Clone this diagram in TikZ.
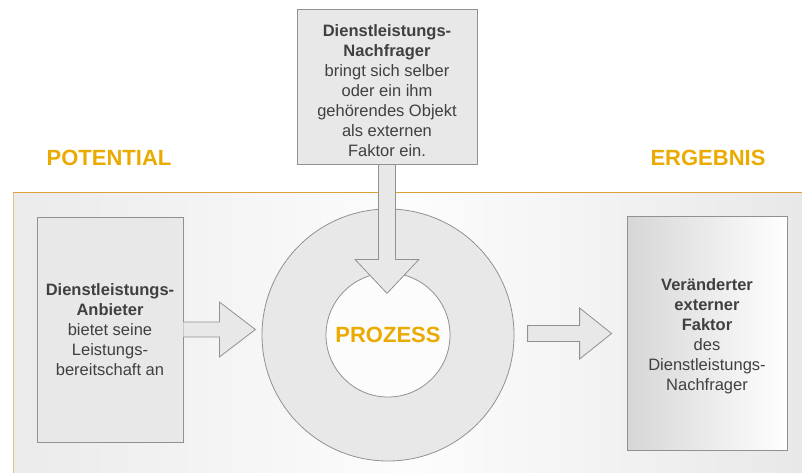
\documentclass[tikz,border=0pt]{standalone}
\usepackage{fontspec}
\setmainfont{Liberation Sans}
\usetikzlibrary{calc}

\definecolor{accent}{RGB}{234,170,0}
\definecolor{panelline}{RGB}{218,162,58}
\definecolor{panelside}{RGB}{228,196,140}
\definecolor{boxfill}{RGB}{232,232,232}
\definecolor{boxline}{RGB}{145,145,145}
\definecolor{txt}{RGB}{64,64,64}

\tikzset{
  bodytext/.style={text=txt, align=center, inner sep=0pt,
    font=\fontsize{16.5}{20}\selectfont},
  heading/.style={text=accent, inner sep=0pt,
    font=\fontsize{22}{26}\selectfont\bfseries},
  greybox/.style={draw=boxline, fill=boxfill, line width=0.8pt,
    rectangle, inner sep=0pt},
  blockarrow/.style={draw=boxline, fill=boxfill, line width=0.8pt,
    line join=miter},
}

\begin{document}
\begin{tikzpicture}[x=1pt, y=-1pt]
\useasboundingbox (0,0) rectangle (802,473);

% background panel with its orange edges
\shade[left color=black!8, right color=black!9, middle color=black!1]
  (13,192) rectangle (802,473);
\draw[panelside, line width=1pt] (13,192) -- (13,473);
\draw[panelline, line width=1pt] (13,192) -- (802,192);

% headings
\node[heading] (potential) at (109,158) {POTENTIAL};
\node[heading] (ergebnis) at (708,158) {ERGEBNIS};

% process ring
\node[circle, draw=boxline, fill=boxfill, line width=0.8pt,
  minimum size=252pt, inner sep=0pt] (ring) at (388,335) {};
\node[circle, draw=boxline, fill=black!1, line width=0.8pt,
  minimum size=124pt, inner sep=0pt] (core) at (ring.center) {};
\node[heading] (prozess) at (core.center) {PROZESS};

% customer box at the top
\node[greybox, minimum width=180pt, minimum height=155pt] (tbox) at (387,86.5) {};

% arrow from the customer into the process
\begin{scope}[shift={(tbox.south)}]
  \filldraw[blockarrow] (-8.5,0) -- (-8.5,95) -- (-32,95) -- (0,129)
    -- (32,95) -- (8.5,95) -- (8.5,0);
\end{scope}
\draw[boxline, line width=0.8pt] (tbox.south west) -- (tbox.south east);
\node[bodytext] (ttext) at (387,91) {\textbf{Dienstleistungs-}\\
  \textbf{Nachfrager}\\ bringt sich selber\\ oder ein ihm\\
  gehörendes Objekt\\ als externen\\ Faktor ein.};

% provider box on the left
\node[greybox, minimum width=146pt, minimum height=225pt] (lbox) at (110,329.5) {};
\node[bodytext] (ltext) at (lbox.center) {\textbf{Dienstleistungs-}\\
  \textbf{Anbieter}\\ bietet seine\\ Leistungs-\\ bereitschaft an};
\begin{scope}[shift={(lbox.east)}]
  \filldraw[blockarrow] (0,-7.5) -- (36,-7.5) -- (36,-27.5) -- (72,0)
    -- (36,27.5) -- (36,7.5) -- (0,7.5);
\end{scope}

% result box on the right
\node[rectangle, draw=boxline, line width=0.8pt, inner sep=0pt,
  minimum width=159pt, minimum height=233pt] (rbox) at (707.5,333.5) {};
\shade[left color=black!16, right color=white]
  (rbox.south west) rectangle (rbox.north east);
\draw[boxline, line width=0.8pt] (rbox.south west) rectangle (rbox.north east);
\node[bodytext] (rtext) at (707,336) {\textbf{Veränderter}\\
  \textbf{externer}\\ \textbf{Faktor}\\ des\\ Dienstleistungs-\\ Nachfrager};

% arrow from the process to the result
\coordinate (rstart) at ($(rbox.west)+(-100,0)$);
\begin{scope}[shift={(rstart)}]
  \filldraw[blockarrow] (0,-8) -- (52,-8) -- (52,-25.5) -- (84,0)
    -- (52,25.5) -- (52,8) -- (0,8) -- cycle;
\end{scope}
\end{tikzpicture}
\end{document}
